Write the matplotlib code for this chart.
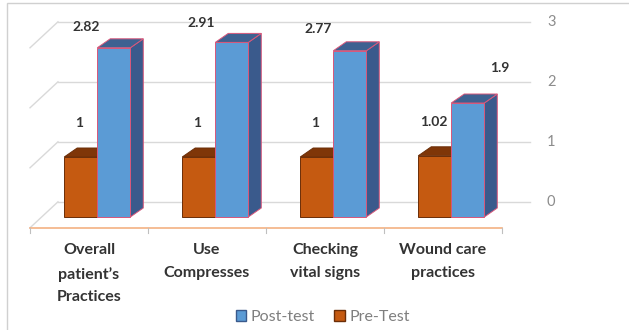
import numpy as np
import matplotlib
matplotlib.use('Agg')
import matplotlib.pyplot as plt
from matplotlib.patches import Polygon, Rectangle, Patch

categories = ["Overall\npatient\u2019s\nPractices", "Use\nCompresses",
              "Checking\nvital signs", "Wound care\npractices"]
pre_test = [1, 1, 1, 1.02]
post_test = [2.82, 2.91, 2.77, 1.9]
y_ticks = [0, 1, 2, 3]

# colours (Excel-like 3D look)
PRE = {'front': '#C55A11', 'top': '#7F3608', 'side': '#8E3E0B'}
POST = {'front': '#5B9BD5', 'top': '#3E6191', 'side': '#3A5A8C'}
GRID = '#D9D9D9'

plt.rcParams['font.family'] = ['Lato', 'DejaVu Sans']

fig = plt.figure(figsize=(6.29, 3.30), dpi=100)
ax = fig.add_axes([0, 0, 1, 1])
# data units: 1 category = 118 px, 1 value unit = 60 px
ax.set_xlim(-89 / 118, (629 - 89) / 118)
ax.set_ylim((217 - 330) / 60, 217 / 60)
ax.axis('off')

n = len(categories)
x = np.arange(n)

# floor / walls
floor_y = -0.18
depth = np.array([0.237, 0.433])   # full floor depth (dx, dy)
bar_depth = np.array([0.11, 0.15])
x0, x1 = -0.5, n - 0.5
for v in y_ticks:
    yb = floor_y + depth[1] + v
    ax.plot([x0 + depth[0], x1 + depth[0]], [yb, yb], color=GRID, lw=1, zorder=1)
    ax.plot([x0, x0 + depth[0]], [floor_y + v, yb], color=GRID, lw=1, zorder=1)
    ax.text(x1 + depth[0] + 0.18, yb, str(v), ha='center', va='center',
            fontsize=10.5, color='#8C8C8C')
ax.plot([x0, x1], [floor_y, floor_y], color='#F4B183', lw=1.2, zorder=2)
for b in np.arange(n + 1) - 0.5:
    ax.plot([b, b], [floor_y, floor_y - 0.08], color='#BFBFBF', lw=0.8, zorder=2)


def draw_bar(left, width, h, col, edge):
    ax.bar(left, h, width=width, align='edge', color=col['front'],
           edgecolor=edge, linewidth=0.7, zorder=5)
    dx, dy = bar_depth
    top = [(left, h), (left + width, h), (left + width + dx, h + dy), (left + dx, h + dy)]
    side = [(left + width, 0), (left + width + dx, dy), (left + width + dx, h + dy),
            (left + width, h)]
    ax.add_patch(Polygon(side, closed=True, facecolor=col['side'], edgecolor=edge,
                         lw=0.7, zorder=4))
    ax.add_patch(Polygon(top, closed=True, facecolor=col['top'], edgecolor=edge,
                         lw=0.7, zorder=4))


w = 0.28
for i in range(n):
    draw_bar(x[i] - 0.21, w, pre_test[i], PRE, '#6B2E08')
    draw_bar(x[i] + 0.07, w, post_test[i], POST, '#D9577A')

# data labels (Excel placed them above the bars, toward the back)
post_label_dx = [-0.02, -0.05, -0.06, 0.48]
for i in range(n):
    ax.text(x[i] - 0.08, 0.75 * pre_test[i] + 0.82, f"{pre_test[i]:g}",
            ha='center', va='center', fontsize=10, fontweight='bold', color='#333333')
    ax.text(x[i] + post_label_dx[i], 0.75 * post_test[i] + 1.05, f"{post_test[i]:g}",
            ha='center', va='center', fontsize=10, fontweight='bold', color='#333333')

for i, lab in enumerate(categories):
    ax.text(x[i], -0.44, lab, ha='center', va='top', fontsize=11.5,
            fontweight='bold', color='#333333', linespacing=1.78)

handles = [Patch(facecolor=POST['front'], edgecolor='#3A5A8C', label='Post-test'),
           Patch(facecolor=PRE['front'], edgecolor='#6B2E08', label='Pre-Test')]
ax.legend(handles=handles, loc='center', bbox_to_anchor=(0.513, 0.04), ncol=2,
          frameon=False, fontsize=11.5, labelcolor='#7F7F7F', handlelength=0.65,
          handleheight=0.65, handletextpad=0.3, columnspacing=1.2)

# outer chart frame
fig.patches.append(Rectangle((7 / 629, -0.1), 1.2, 1 - 3 / 330 + 0.1,
                             transform=fig.transFigure, fill=False,
                             edgecolor='#D0D0D0', lw=1))

fig.savefig('out.png', dpi=100)
